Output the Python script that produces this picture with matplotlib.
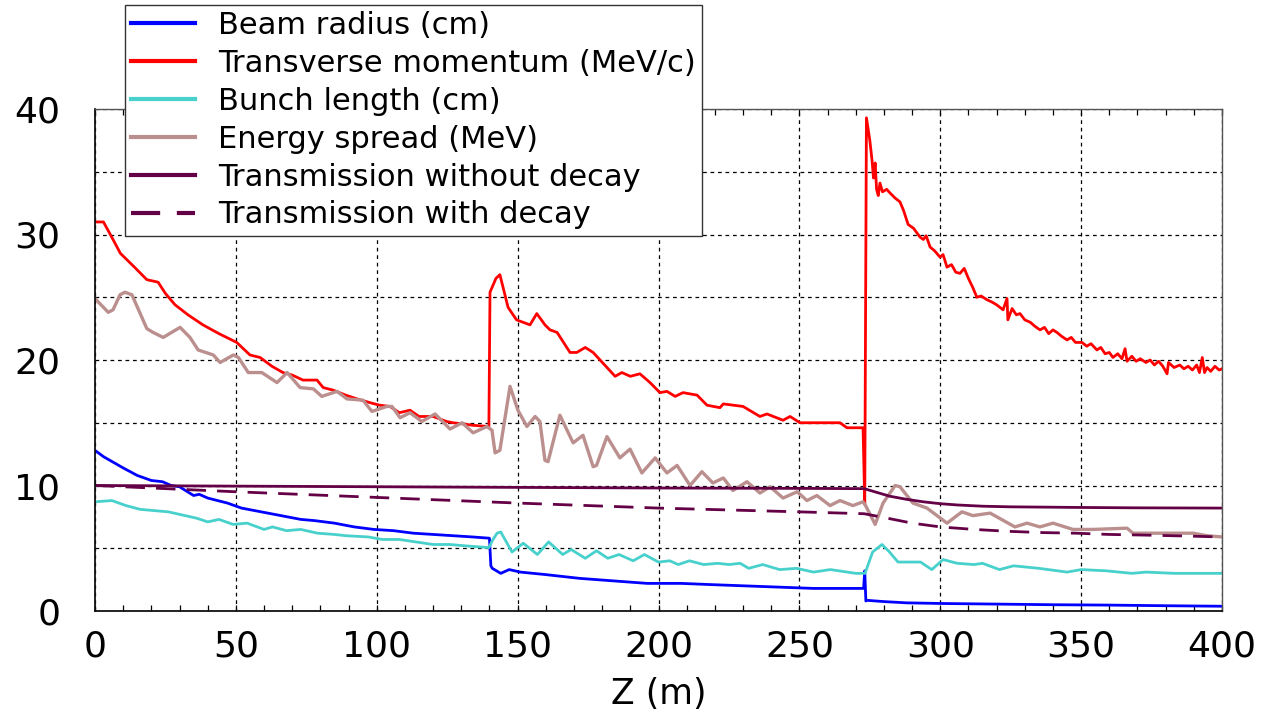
import matplotlib
matplotlib.use("Agg")
from matplotlib import pyplot as plt
from matplotlib.ticker import MultipleLocator

# beam radius (cm)
z_radius = [0, 3, 10, 15, 20, 24, 27, 30, 35, 37, 40, 47, 52, 59, 66, 73, 78, 85, 92, 99,
            106, 113, 120, 127, 134, 140, 140.5, 141, 144, 147, 151, 160, 172, 184, 196,
            208, 219, 231, 243, 255, 272.8, 273.2, 273.6, 274, 280, 288, 300, 320, 340,
            360, 380, 400]
radius = [12.8, 12.3, 11.4, 10.8, 10.4, 10.3, 10.0, 9.9, 9.2, 9.3, 9.0, 8.6, 8.2, 7.9, 7.6,
          7.3, 7.2, 7.0, 6.7, 6.5, 6.4, 6.2, 6.1, 6.0, 5.9, 5.8, 3.6, 3.4, 3.0, 3.3, 3.1,
          2.9, 2.6, 2.4, 2.2, 2.2, 2.1, 2.0, 1.9, 1.8, 1.8, 3.2, 0.8, 0.85, 0.75, 0.65, 0.6,
          0.55, 0.5, 0.47, 0.42, 0.38]

# transverse momentum (MeV/c)
z_pt = [0, 3, 6.4, 9, 14, 18.4, 22.4, 25, 28.4, 33, 38.3, 44, 50.3, 55, 58.6, 62.8, 66.7,
        70, 73.8, 78.8, 81, 84.5, 89, 93, 97.6, 101, 104.7, 108, 111.8, 115, 120, 124.8,
        127, 131, 134, 139.8,
        140.2, 142.3, 143.7, 146.6, 149.6, 154.4, 156.8, 159.7, 161.5, 164, 168.6, 171,
        174, 176.8, 181.7, 184.6, 187, 190, 193.4, 197, 200.5, 203, 205.9, 208.7, 213.7,
        217.2, 221.8, 223, 230, 236, 238.5, 244.2, 246.7, 250.2, 256.2, 264.4, 266.9,
        272.6, 273.2, 273.8,
        275, 275.8, 276.3, 276.9, 277.4, 278, 278.6, 279.5, 281, 282.2, 284, 285.7, 287,
        288.6, 290.5, 292.8, 294, 295, 296.4, 298, 299.9, 301, 302.4, 304, 305.5, 307,
        308.5, 310, 311.5, 313, 314.5, 316.6, 318.5, 320, 322.3, 323.7, 324, 325.5, 327,
        328.3, 330, 332, 333.5, 335.4, 337, 338.5, 340, 341.4, 343, 345, 346.5, 348,
        350.3, 352, 353.5, 355.6, 357, 358.5, 360, 361.3, 363, 364.5, 365.6, 366.3, 368,
        369.5, 371, 373, 374.5, 376, 377.5, 379, 380.5, 381, 383, 385, 386.5, 388, 389.5,
        391, 392, 393, 393.8, 394.7, 396, 397.5, 399, 400]
pt = [31.0, 31.0, 29.6, 28.5, 27.4, 26.4, 26.2, 25.3, 24.4, 23.6, 22.8, 22.1, 21.4, 20.4,
      20.2, 19.5, 19.0, 18.8, 18.4, 18.4, 17.8, 17.6, 17.2, 16.9, 16.6, 16.4, 16.3, 15.8,
      16.0, 15.5, 15.5, 15.1, 15.0, 14.9, 14.8, 14.7,
      25.4, 26.5, 26.8, 24.2, 23.2, 22.8, 23.7, 22.8, 22.4, 22.2, 20.6, 20.6, 21.0, 20.6,
      19.4, 18.7, 19.0, 18.7, 18.9, 18.2, 17.4, 17.5, 17.1, 17.4, 17.2, 16.4, 16.2, 16.5,
      16.3, 15.5, 15.7, 15.2, 15.5, 15.0, 15.0, 15.0, 14.6, 14.6, 8.5, 39.3,
      37.5, 35.9, 34.5, 35.7, 33.6, 33.1, 34.1, 33.4, 33.6, 33.3, 32.9, 32.6, 31.9, 30.8,
      30.5, 29.8, 29.6, 29.9, 29.0, 28.7, 28.2, 28.4, 27.4, 27.6, 27.0, 26.9, 27.3, 26.5,
      25.8, 25.0, 25.1, 24.8, 24.6, 24.4, 24.0, 24.9, 23.2, 24.1, 23.6, 23.7, 23.2, 23.0,
      22.7, 22.4, 22.6, 22.1, 22.4, 22.2, 21.9, 21.6, 21.8, 21.4, 21.4, 21.1, 21.3, 20.8,
      21.0, 20.5, 20.6, 20.2, 20.5, 20.1, 20.9, 19.9, 20.3, 19.9, 20.1, 19.8, 20.0, 19.6,
      19.9, 19.5, 18.9, 19.8, 19.4, 19.6, 19.3, 19.5, 19.2, 19.6, 19.0, 20.2, 19.0, 19.4,
      19.1, 19.5, 19.2, 19.3]

# bunch length (cm)
z_bunch = [0, 6, 11, 16, 21, 26, 30, 36, 40, 44, 49, 54, 60, 63, 68, 73, 79, 85, 89, 97,
           102, 108, 114, 120, 126, 131, 139.8, 141, 142.7, 144, 148, 152, 157, 161, 166,
           169, 174, 178, 182, 186, 191, 195, 200, 204, 207, 211, 216, 221, 225, 229, 232,
           237, 243, 249, 255, 261, 270, 273.3, 276, 279.3, 282, 285, 289, 293, 297, 301,
           306, 312, 315, 321, 326, 335, 345, 350, 359, 368, 373, 383, 400]
bunch = [8.7, 8.8, 8.4, 8.1, 8.0, 7.9, 7.7, 7.4, 7.1, 7.3, 6.9, 7.0, 6.5, 6.7, 6.4, 6.5,
         6.2, 6.1, 6.0, 5.9, 5.7, 5.7, 5.5, 5.3, 5.3, 5.2, 5.05, 5.6, 6.2, 6.3, 4.7, 5.4,
         4.5, 5.5, 4.5, 4.9, 4.2, 4.8, 4.2, 4.5, 4.0, 4.5, 3.9, 4.0, 3.7, 4.0, 3.7, 3.8,
         3.7, 3.8, 3.4, 3.7, 3.3, 3.4, 3.1, 3.3, 3.0, 3.0, 4.7, 5.3, 4.7, 3.9, 3.9, 3.9,
         3.3, 4.1, 3.8, 3.7, 3.8, 3.3, 3.6, 3.4, 3.1, 3.3, 3.2, 3.0, 3.1, 3.0, 3.0]

# energy spread (MeV)
z_espread = [0.4, 4.7, 6.4, 8.9, 10.6, 13.1, 18.4, 20.6, 24.2, 30.2, 33.7, 36.6, 42, 44.4,
             49.1, 50.9, 54.4, 59.2, 64.6, 68.2, 72.8, 77.5, 80.5, 85.9, 89.4, 95.1, 98.3,
             103.6, 105.4, 108.3, 111.8, 116, 120.7, 126, 130.3, 134.2, 139.1, 140.9, 142,
             143.7, 147.3, 150.1, 153.3, 156.2, 157.9, 159.7, 160.8, 165, 169.7, 173.2,
             176.8, 178, 181.7, 186.3, 189.9, 194.1, 198.8, 203, 206.6, 211.2, 215.4,
             219.3, 223, 226.4, 231.4, 236, 239.6, 244.2, 249.2, 252.7, 256.2, 260.9,
             264.4, 269, 272.6, 273.5, 276.9, 279.7, 284, 285.7, 290.3, 295.3, 302.4,
             307.7, 311.6, 317.7, 326.5, 330.8, 335.4, 340, 347.1, 354.2, 366.3, 368.4,
             382.6, 389.7, 394.7, 400]
espread = [24.8, 23.8, 24.0, 25.2, 25.4, 25.2, 22.5, 22.2, 21.8, 22.6, 21.8, 20.8, 20.4,
           19.8, 20.4, 20.2, 19.0, 19.0, 18.2, 19.0, 17.8, 17.7, 17.1, 17.5, 16.9, 16.8,
           15.9, 16.3, 16.3, 15.4, 15.8, 15.1, 15.7, 14.5, 15.0, 14.2, 14.7, 14.4, 12.6,
           12.8, 17.9, 16.0, 14.7, 15.5, 15.1, 12.0, 11.9, 15.6, 13.4, 14.0, 11.5, 11.6,
           13.9, 12.2, 12.9, 11.0, 12.2, 11.0, 11.6, 10.0, 11.1, 10.2, 10.6, 9.6, 10.3,
           9.4, 9.9, 9.0, 9.5, 8.8, 9.2, 8.4, 8.8, 8.4, 8.7, 8.4, 6.9, 8.6, 10.0, 9.9, 8.6,
           8.2, 7.0, 7.9, 7.6, 7.8, 6.7, 7.0, 6.7, 7.0, 6.5, 6.5, 6.6, 6.2, 6.2, 6.2, 6.0,
           5.9]

# transmission (scaled to 10)
z_trans = [0, 50, 100, 150, 200, 250, 273, 276, 282, 288, 294, 300, 306, 315, 325, 335,
           350, 370, 400]
trans_nodecay = [10.0, 9.95, 9.9, 9.85, 9.8, 9.77, 9.75, 9.55, 9.15, 8.9, 8.7, 8.55, 8.45,
                 8.35, 8.3, 8.28, 8.25, 8.22, 8.2]
z_trans_d = [0, 50, 100, 150, 200, 250, 273, 280, 290, 300, 312, 324, 336, 348, 360, 372,
             386, 400]
trans_decay = [10.0, 9.5, 9.05, 8.6, 8.2, 7.9, 7.75, 7.45, 7.0, 6.7, 6.5, 6.35, 6.25, 6.2,
               6.1, 6.05, 5.98, 5.9]

plt.rcParams['font.family'] = ['DejaVu Sans']

fig = plt.figure(figsize=(12.66, 7.15), dpi=100)
ax = fig.add_axes([95/1266, 1 - 611/715, 1127/1266, 502/715])

lw = 2.0
purple = '#640046'
ax.plot(z_radius, radius, color='#0000ff', lw=lw, label='Beam radius (cm)')
ax.plot(z_pt, pt, color='#ff0000', lw=lw, label='Transverse momentum (MeV/c)')
ax.plot(z_bunch, bunch, color='#48d1cc', lw=lw, label='Bunch length (cm)')
ax.plot(z_espread, espread, color='#bc8f8f', lw=lw + 0.4, label='Energy spread (MeV)')
ax.plot(z_trans, trans_nodecay, color=purple, lw=lw, label='Transmission without decay')
ax.plot(z_trans_d, trans_decay, color=purple, lw=lw, dashes=(7, 4),
        label='Transmission with decay')

ax.set_xlim(0, 400)
ax.set_ylim(0, 40)
ax.xaxis.set_major_locator(MultipleLocator(50))
ax.xaxis.set_minor_locator(MultipleLocator(10))
ax.yaxis.set_major_locator(MultipleLocator(10))
ax.yaxis.set_minor_locator(MultipleLocator(5))

grid_kw = dict(color='black', lw=0.9, linestyle=(0, (3, 3)))
ax.xaxis.grid(True, which='major', **grid_kw)
ax.yaxis.grid(True, which='both', **grid_kw)

ax.tick_params(axis='x', which='both', direction='in', top=True, length=4,
               width=0.9, labelsize=26, pad=13)
ax.tick_params(axis='y', which='both', length=0, labelsize=26, pad=25)
for side in ['left', 'bottom']:
    ax.spines[side].set_color('#111111')
    ax.spines[side].set_linewidth(1.3)
for side in ['top', 'right']:
    ax.spines[side].set_color('#555555')
    ax.spines[side].set_linewidth(1.0)

ax.set_xlabel('Z (m)', fontsize=25, labelpad=10)

leg = fig.legend(loc='upper left', bbox_to_anchor=(125/1266, 1 - 5/715),
                 bbox_transform=fig.transFigure, fontsize=22, frameon=True,
                 fancybox=False, framealpha=1, edgecolor='#333333',
                 handlelength=2.1, handletextpad=0.75, labelspacing=0.29,
                 borderpad=0.2, borderaxespad=0)
leg.get_frame().set_linewidth(1.0)
for line in leg.get_lines():
    line.set_linewidth(3.0)

fig.savefig('out.png', dpi=100)
